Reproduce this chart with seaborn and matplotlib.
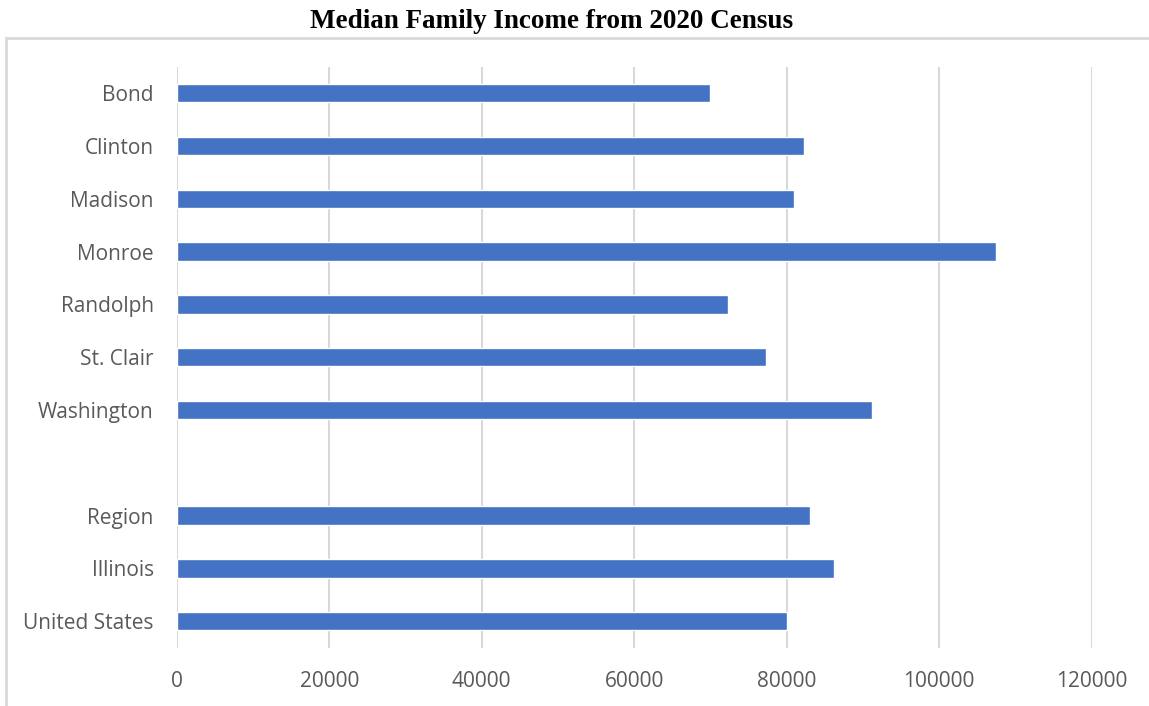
import matplotlib
matplotlib.use("Agg")
import matplotlib.pyplot as plt
from matplotlib.patches import Rectangle
import numpy as np
import pandas as pd
import seaborn as sns

# Median family income by area (2020 Census); blank entry separates counties from comparisons
areas = ["Bond", "Clinton", "Madison", "Monroe", "Randolph", "St. Clair", "Washington",
         " ", "Region", "Illinois", "United States"]
income = [69900, 82250, 80900, 107500, 72250, 77300, 91200,
          np.nan, 83000, 86200, 80100]
x_ticks = [0, 20000, 40000, 60000, 80000, 100000, 120000]

df = pd.DataFrame({"area": areas, "income": income})

sns.set_theme(style="white")
plt.rcParams["font.family"] = ["Open Sans", "DejaVu Sans"]

fig = plt.figure(figsize=(11.49, 7.06), dpi=100)
ax = fig.add_axes([0.1538, 0.0826, 0.9501 - 0.1538, 0.9055 - 0.0826])

sns.barplot(data=df, x="income", y="area", order=areas, orient="h",
            color="#4472C4", saturation=1, width=0.347, ax=ax)

ax.set_xlim(0, 120000)
ax.set_xticks(x_ticks)
ax.set_xticklabels([str(t) for t in x_ticks])
ax.set_ylim(len(areas) - 0.5, -0.5)
ax.xaxis.grid(True, color="#d9d9d9", linewidth=1.5)
ax.set_axisbelow(True)
for s in ax.spines.values():
    s.set_visible(False)
ax.set_xlabel("")
ax.set_ylabel("")
ax.tick_params(axis="both", length=0, labelsize=15, colors="#595959")
ax.tick_params(axis="y", pad=16.5)
ax.tick_params(axis="x", pad=17)

# Chart-area frame
fig.patches.append(Rectangle((6 / 1149, -0.1), 1.2, 1.1 - 38.3 / 706,
                             transform=fig.transFigure, fill=False,
                             edgecolor="#d9d9d9", linewidth=2, zorder=0))

fig.text(552 / 1149, 1 - 22 / 706, "Median Family Income from 2020 Census",
         ha="center", va="center", fontsize=19.5, fontweight="bold",
         family=["Liberation Serif", "DejaVu Serif"], color="black")

fig.savefig("out.png", dpi=100, facecolor="white")
